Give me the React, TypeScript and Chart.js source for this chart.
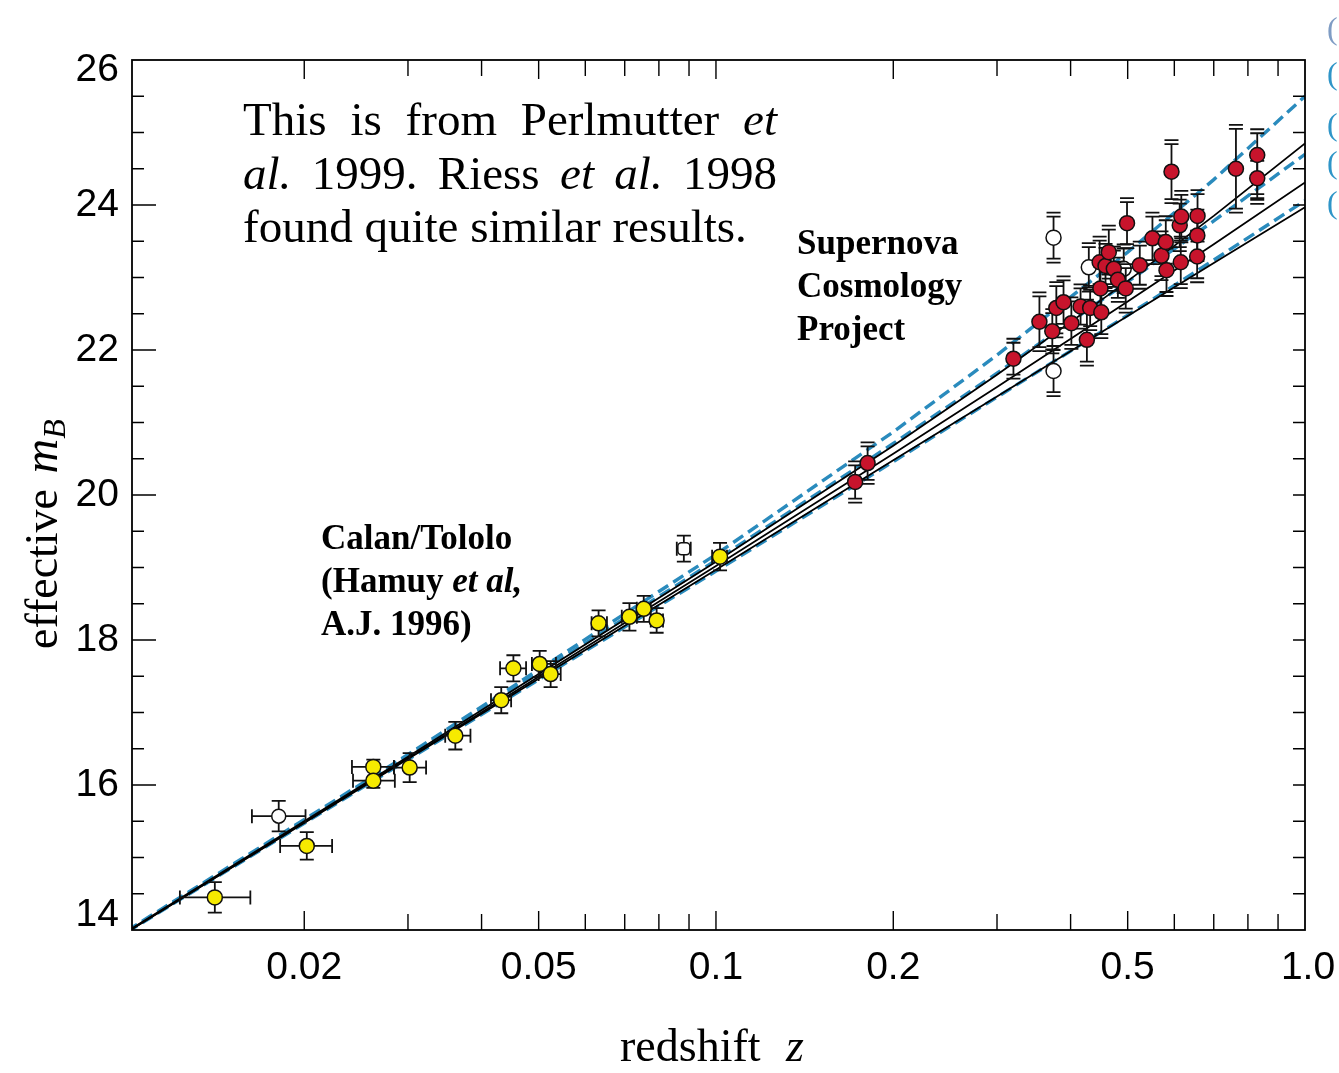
import React, { useEffect, useRef } from 'react';
import { Chart, registerables } from 'chart.js';

Chart.register(...registerables);

const W = 1339;
const H = 1073;

// ---- Model curves ----
const modelZ = [0.01, 0.03, 0.1, 0.2, 0.3, 0.5, 0.7, 1.0];
const dashTop = [13.99, 16.42, 19.18, 20.87, 21.93, 23.35, 24.35, 25.5];
const dashMid = [13.98, 16.4, 19.1, 20.71, 21.68, 22.94, 23.78, 24.7];
const dashLow = [13.97, 16.35, 18.95, 20.46, 21.35, 22.48, 23.24, 24.06];
const solidTop = [13.98, 16.39, 19.08, 20.68, 21.66, 22.95, 23.85, 24.85];
const solidMid = [13.97, 16.37, 19.02, 20.57, 21.49, 22.67, 23.46, 24.31];
const solidLow = [13.97, 16.36, 18.97, 20.48, 21.36, 22.47, 23.2, 23.97];

// ---- Calan/Tololo (yellow) ----
const ctZ = [0.0141, 0.0202, 0.0262, 0.0262, 0.0302, 0.0361, 0.0432, 0.0453, 0.0502, 0.0524, 0.0632, 0.0713, 0.0754, 0.0793, 0.1016];
const ctM = [14.45, 15.16, 16.25, 16.06, 16.24, 16.68, 17.17, 17.61, 17.67, 17.53, 18.23, 18.32, 18.43, 18.27, 19.15];
const ctErrLo = [0.21, 0.19, 0.2, 0.1, 0.2, 0.19, 0.18, 0.18, 0.18, 0.18, 0.18, 0.19, 0.18, 0.17, 0.19];
const ctErrHi = [0.21, 0.19, 0.1, 0.23, 0.2, 0.19, 0.18, 0.18, 0.18, 0.18, 0.18, 0.19, 0.18, 0.17, 0.19];
const ctZLo = [0.0123, 0.0182, 0.0241, 0.0242, 0.0284, 0.0347, 0.0415, 0.043, 0.0487, 0.05, 0.0615, 0.0692, 0.0734, 0.0775, 0.0985];
const ctZHi = [0.0162, 0.0223, 0.0284, 0.0285, 0.0322, 0.0383, 0.0449, 0.0476, 0.0535, 0.0545, 0.0653, 0.0734, 0.0775, 0.0813, 0.1044];

// ---- Low-z excluded (open) ----
const lowOpenZ = [0.0181];
const lowOpenM = [15.57];
const lowOpenErr = [0.21];
const lowOpenZLo = [0.0163];
const lowOpenZHi = [0.0201];
const sqOpenZ = [0.0882];
const sqOpenM = [19.26];
const sqOpenErr = [0.18];
const sqOpenZLo = [0.0858];
const sqOpenZHi = [0.0906];

// ---- Supernova Cosmology Project (red) ----
const scpZ = [0.1723, 0.1809, 0.3199, 0.3541, 0.3724, 0.3783, 0.3891, 0.4012, 0.4159, 0.4263, 0.4318, 0.4481, 0.4495, 0.451, 0.4585, 0.4644, 0.4736, 0.4812, 0.4962, 0.4987, 0.5242, 0.5508, 0.5706, 0.5803, 0.5819, 0.5934, 0.6128, 0.6153, 0.6166, 0.656, 0.6565, 0.657, 0.7634, 0.8297, 0.8297];
const scpM = [20.18, 20.44, 21.88, 22.39, 22.26, 22.58, 22.66, 22.37, 22.6, 22.14, 22.58, 23.21, 22.85, 22.52, 23.16, 23.35, 23.12, 22.97, 22.85, 23.75, 23.17, 23.54, 23.3, 23.49, 23.1, 24.46, 23.72, 23.21, 23.84, 23.29, 23.58, 23.85, 24.5, 24.69, 24.37];
const scpErrLo = [0.23, 0.23, 0.22, 0.35, 0.25, 0.35, 0.3, 0.3, 0.25, 0.3, 0.25, 0.3, 0.3, 0.3, 0.25, 0.31, 0.25, 0.25, 0.28, 0.29, 0.27, 0.3, 0.28, 0.3, 0.3, 0.38, 0.3, 0.3, 0.3, 0.3, 0.3, 0.3, 0.55, 0.54, 0.3];
const scpErrHi = [0.23, 0.23, 0.22, 0.35, 0.25, 0.3, 0.3, 0.3, 0.25, 0.5, 0.25, 0.3, 0.3, 0.3, 0.25, 0.31, 0.25, 0.25, 0.28, 0.29, 0.27, 0.3, 0.28, 0.3, 0.3, 0.38, 0.3, 0.3, 0.3, 0.3, 0.3, 0.3, 0.55, 0.3, 0.24];

const scpOpenZ = [0.3742, 0.3742, 0.4295, 0.4923];
const scpOpenM = [23.55, 21.71, 23.14, 23.12];
const scpOpenErr = [0.29, 0.29, 0.28, 0.28];

// ---- Axis ticks ----
const yLabelValues = [14, 16, 18, 20, 22, 24, 26];
const xLabelValues = [0.02, 0.05, 0.1, 0.2, 0.5, 1.0];
const xLabelTexts = ['0.02', '0.05', '0.1', '0.2', '0.5', '1.0'];
const xTickValues = [0.02, 0.03, 0.04, 0.05, 0.06, 0.07, 0.08, 0.09, 0.1, 0.2, 0.3, 0.4, 0.5, 0.6, 0.7, 0.8, 0.9];

const BLUE = '#2a8bbd';
const SERIF = '"Liberation Serif", "Times New Roman", serif';
const SANS = '"Liberation Sans", Arial, sans-serif';

const toPts = (xs: number[], ys: number[]) => xs.map((x, i) => ({ x, y: ys[i] }));

const overlayPlugin = {
  id: 'overlay',
  beforeDatasetDraw(chart: any, args: any) {
    const ds = chart.data.datasets[args.index];
    if (!ds.errLo) return;
    const { ctx } = chart;
    const xs = chart.scales.x;
    const ys = chart.scales.y;
    const a = chart.chartArea;
    ctx.save();
    ctx.beginPath();
    ctx.rect(a.left, a.top, a.right - a.left, a.bottom - a.top);
    ctx.clip();
    ctx.strokeStyle = '#111';
    ctx.lineWidth = 1.8;
    const cap = 7;
    ds.data.forEach((p: any, i: number) => {
      const px = xs.getPixelForValue(p.x);
      const py = ys.getPixelForValue(p.y);
      const yTop = ys.getPixelForValue(p.y - ds.errLo[i]);
      const yBot = ys.getPixelForValue(p.y + ds.errHi[i]);
      ctx.beginPath();
      ctx.moveTo(px, yTop);
      ctx.lineTo(px, yBot);
      ctx.moveTo(px - cap, yTop);
      ctx.lineTo(px + cap, yTop);
      ctx.moveTo(px - cap, yBot);
      ctx.lineTo(px + cap, yBot);
      if (ds.doubleCap) {
        ctx.moveTo(px - cap, yTop + 4);
        ctx.lineTo(px + cap, yTop + 4);
        ctx.moveTo(px - cap, yBot - 4);
        ctx.lineTo(px + cap, yBot - 4);
      }
      if (ds.zLo) {
        const xl = xs.getPixelForValue(ds.zLo[i]);
        const xr = xs.getPixelForValue(ds.zHi[i]);
        ctx.moveTo(xl, py);
        ctx.lineTo(xr, py);
        ctx.moveTo(xl, py - cap);
        ctx.lineTo(xl, py + cap);
        ctx.moveTo(xr, py - cap);
        ctx.lineTo(xr, py + cap);
      }
      ctx.stroke();
    });
    ctx.restore();
  },
  afterDatasetsDraw(chart: any) {
    const { ctx } = chart;
    const a = chart.chartArea;
    const xs = chart.scales.x;
    const ys = chart.scales.y;
    ctx.save();
    // frame
    ctx.strokeStyle = '#000';
    ctx.lineWidth = 1.8;
    ctx.strokeRect(a.left, a.top, a.right - a.left, a.bottom - a.top);
    // y ticks every 0.5
    ctx.lineWidth = 1.4;
    ctx.beginPath();
    for (let k = 1; k < 24; k++) {
      const v = 14 + k * 0.5;
      const y = ys.getPixelForValue(v);
      const major = k % 4 === 0;
      ctx.moveTo(a.left, y);
      ctx.lineTo(a.left + (major ? 24 : 12), y);
      ctx.moveTo(a.right, y);
      ctx.lineTo(a.right - 12, y);
    }
    // x ticks
    xTickValues.forEach((v) => {
      const x = xs.getPixelForValue(v);
      const len = xLabelValues.includes(v) ? 19 : 16;
      ctx.moveTo(x, a.bottom);
      ctx.lineTo(x, a.bottom - len);
      ctx.moveTo(x, a.top);
      ctx.lineTo(x, a.top + len);
    });
    ctx.stroke();

    // tick labels
    ctx.fillStyle = '#000';
    ctx.font = `39px ${SANS}`;
    ctx.textAlign = 'right';
    ctx.textBaseline = 'middle';
    yLabelValues.forEach((v) => {
      let y = ys.getPixelForValue(v);
      y = Math.max(a.top + 10, Math.min(a.bottom - 15, y));
      ctx.fillText(String(v), 119, y);
    });
    ctx.textAlign = 'center';
    xLabelValues.forEach((v, i) => {
      const x = xs.getPixelForValue(v);
      ctx.fillText(xLabelTexts[i], x + (v === 1 ? 3 : 0), 968);
    });

    // axis titles
    ctx.textAlign = 'left';
    ctx.textBaseline = 'alphabetic';
    ctx.font = `46px ${SERIF}`;
    ctx.fillText('redshift', 620, 1061);
    ctx.font = `italic 46px ${SERIF}`;
    ctx.fillText('z', 786, 1061);

    ctx.save();
    ctx.translate(57, 649);
    ctx.rotate(-Math.PI / 2);
    ctx.font = `46px ${SERIF}`;
    ctx.fillText('effective', 0, 0);
    let off = ctx.measureText('effective ').width + 4;
    ctx.font = `italic 48px ${SERIF}`;
    ctx.fillText('m', off, 0);
    off += ctx.measureText('m').width;
    ctx.font = `italic 32px ${SERIF}`;
    ctx.fillText('B', off, 8);
    ctx.restore();

    // note text (justified)
    const noteLines: [string, boolean][][] = [
      [['This', false], ['is', false], ['from', false], ['Perlmutter', false], ['et', true]],
      [['al.', true], ['1999.', false], ['Riess', false], ['et', true], ['al.', true], ['1998', false]],
      [['found', false], ['quite', false], ['similar', false], ['results.', false]],
    ];
    const noteBase = [135, 189, 242];
    const noteX = 243;
    const noteRight = 777;
    const fs = 47;
    noteLines.forEach((words, li) => {
      const widths = words.map(([w, it]) => {
        ctx.font = `${it ? 'italic ' : ''}${fs}px ${SERIF}`;
        return ctx.measureText(w).width;
      });
      const sum = widths.reduce((s, w) => s + w, 0);
      ctx.font = `${fs}px ${SERIF}`;
      const space = ctx.measureText(' ').width;
      const gap = li < 2 ? (noteRight - noteX - sum) / (words.length - 1) : space;
      let x = noteX;
      words.forEach(([w, it], wi) => {
        ctx.font = `${it ? 'italic ' : ''}${fs}px ${SERIF}`;
        ctx.fillText(w, x, noteBase[li]);
        x += widths[wi] + gap;
      });
    });

    // bold labels
    const drawRuns = (runs: [string, string][], x: number, y: number) => {
      let cx = x;
      runs.forEach(([t, f]) => {
        ctx.font = f;
        ctx.fillText(t, cx, y);
        cx += ctx.measureText(t).width;
      });
    };
    const B = `bold 35px ${SERIF}`;
    const BI = `italic bold 35px ${SERIF}`;
    drawRuns([['Supernova', B]], 797, 254);
    drawRuns([['Cosmology', B]], 797, 297);
    drawRuns([['Project', B]], 797, 340);
    drawRuns([['Calan/Tololo', B]], 321, 549);
    drawRuns([['(Hamuy ', B], ['et al,', BI]], 321, 592);
    drawRuns([['A.J. 1996)', B]], 321, 635);

    // clipped legend parentheses at right edge
    ctx.font = `32px ${SERIF}`;
    ctx.textBaseline = 'middle';
    const parenY = [31, 76, 127, 165, 205];
    parenY.forEach((y, i) => {
      ctx.fillStyle = i === 0 ? '#7f9cc4' : '#2f95c8';
      ctx.fillText('(', 1327, y);
    });
    ctx.restore();
  },
};

export default function App() {
  const ref = useRef<HTMLCanvasElement>(null);
  useEffect(() => {
    const lineDs = (ys: number[], color: string, width: number, dash: number[], order: number) => ({
      data: toPts(modelZ, ys),
      showLine: true,
      borderColor: color,
      borderWidth: width,
      borderDash: dash,
      pointRadius: 0,
      tension: 0,
      fill: false,
      order,
    });
    const chart = new Chart(ref.current as HTMLCanvasElement, {
      type: 'scatter',
      data: {
        datasets: [
          lineDs(dashTop, BLUE, 3.4, [12, 6], 5),
          lineDs(dashMid, BLUE, 3.4, [12, 6], 5),
          lineDs(dashLow, BLUE, 3.4, [12, 6], 5),
          lineDs(solidTop, '#000', 1.8, [], 4),
          lineDs(solidMid, '#000', 1.8, [], 4),
          lineDs(solidLow, '#000', 1.8, [], 4),
          {
            data: toPts(lowOpenZ, lowOpenM),
            errLo: lowOpenErr, errHi: lowOpenErr, zLo: lowOpenZLo, zHi: lowOpenZHi,
            pointRadius: 7, pointStyle: 'circle', backgroundColor: '#fff', borderColor: '#111', borderWidth: 1.5, order: 3,
          } as any,
          {
            data: toPts(sqOpenZ, sqOpenM),
            errLo: sqOpenErr, errHi: sqOpenErr, zLo: sqOpenZLo, zHi: sqOpenZHi,
            pointRadius: 7, pointStyle: 'rectRounded', backgroundColor: '#fff', borderColor: '#111', borderWidth: 1.5, order: 3,
          } as any,
          {
            data: toPts(ctZ, ctM),
            errLo: ctErrLo, errHi: ctErrHi, zLo: ctZLo, zHi: ctZHi,
            pointRadius: 7.5, backgroundColor: '#f6ea00', borderColor: '#111', borderWidth: 1.5, order: 2,
          } as any,
          {
            data: toPts(scpOpenZ, scpOpenM),
            errLo: scpOpenErr, errHi: scpOpenErr, doubleCap: true,
            pointRadius: 7.5, backgroundColor: '#fff', borderColor: '#111', borderWidth: 1.5, order: 3,
          } as any,
          {
            data: toPts(scpZ, scpM),
            errLo: scpErrLo, errHi: scpErrHi, doubleCap: true,
            pointRadius: 7.5, backgroundColor: '#c8142c', borderColor: '#111', borderWidth: 1.5, order: 1,
          } as any,
        ],
      },
      options: {
        responsive: false,
        animation: false,
        devicePixelRatio: 1,
        layout: { padding: { top: 60, right: 34, left: 0, bottom: 0 } },
        plugins: { legend: { display: false }, tooltip: { enabled: false } },
        scales: {
          x: {
            type: 'logarithmic',
            min: 0.0102,
            max: 1.0,
            ticks: { display: false },
            grid: { display: false },
            border: { display: false },
            afterFit: (s: any) => { s.height = H - 930; },
          },
          y: {
            type: 'linear',
            min: 14,
            max: 26,
            ticks: { display: false },
            grid: { display: false },
            border: { display: false },
            afterFit: (s: any) => { s.width = 132; },
          },
        },
      } as any,
      plugins: [overlayPlugin],
    });
    return () => chart.destroy();
  }, []);
  return (
    <div style={{ position: 'fixed', left: 0, top: 0, width: W, height: H, background: '#fff' }}>
      <canvas ref={ref} width={W} height={H} style={{ width: W, height: H, display: 'block' }} />
    </div>
  );
}
